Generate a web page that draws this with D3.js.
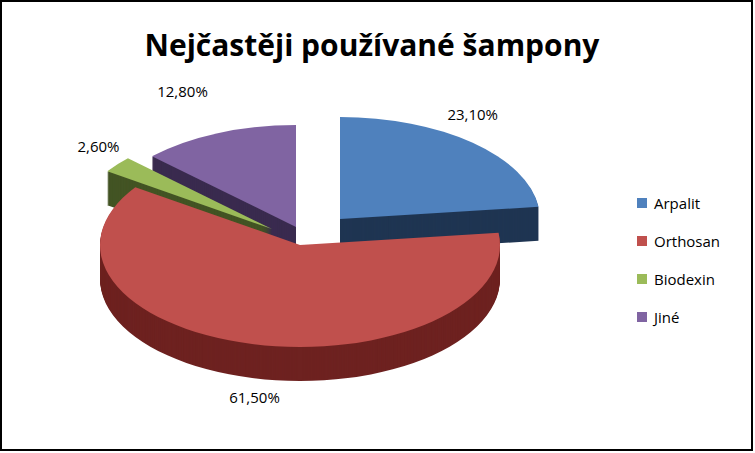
<!DOCTYPE html><html><head><meta charset="utf-8">
<script src="https://cdn.jsdelivr.net/npm/d3@7"></script>
<style>body{margin:0;background:#fff}</style></head><body><svg id="c" width="755" height="453"></svg>
<script>
const categories=["Arpalit","Orthosan","Biodexin","Jiné"];
const values=[23.1,61.5,2.6,12.8];
const labels=["23,10%","61,50%","2,60%","12,80%"];
const topColors=["#4F81BD","#C0504D","#9BBB59","#8064A2"];
const sideColors=["#1F3552","#6E2220","#435424","#3A2B4F"];
const offsets=[[40,-26],[0,0],[-28,-16],[-4,-18]];
const svg=d3.select("#c");
svg.append("rect").attr("x",1).attr("y",1).attr("width",751).attr("height",449).attr("fill","#fff").attr("stroke","#000").attr("stroke-width",2);
svg.append("text").attr("x",372).attr("y",56).attr("text-anchor","middle").attr("font-family","Open Sans, sans-serif").attr("font-weight","bold").attr("font-size",30).text("Nejčastěji používané šampony");
const cx=300,cy=245,rx=200,ry=102,depth=34;
const arcs=d3.pie().sort(null)(values);
const arc=d3.arc().innerRadius(0).outerRadius(rx);
const order=[3,2,0,1];
order.forEach(i=>{
  const a=arcs[i],[ox,oy]=offsets[i];
  const g=svg.append("g");
  for(let d=depth;d>0;d-=1){
    g.append("path").attr("d",arc(a)).attr("fill",sideColors[i])
     .attr("transform",`translate(${cx+ox},${cy+oy+d}) scale(1,${ry/rx})`);
  }
  g.append("path").attr("d",arc(a)).attr("fill",topColors[i])
   .attr("transform",`translate(${cx+ox},${cy+oy}) scale(1,${ry/rx})`);
});
const labelR=[[1.0,1.3],[0.95,1.6],[1.12,1.2],[1.45,1.38]];
arcs.forEach((a,i)=>{
  const m=(a.startAngle+a.endAngle)/2,[ox,oy]=offsets[i];
  const x=cx+ox+Math.sin(m)*rx*labelR[i][0], y=cy+oy-Math.cos(m)*ry*labelR[i][1];
  svg.append("text").attr("x",x).attr("y",y).attr("text-anchor","middle").attr("font-family","Open Sans, sans-serif").attr("font-size",15).text(labels[i]);
});
const lg=svg.append("g");
categories.forEach((c,i)=>{
  const y=203+i*38;
  lg.append("rect").attr("x",637).attr("y",y-5).attr("width",10).attr("height",10).attr("fill",topColors[i]);
  lg.append("text").attr("x",654).attr("y",y+6).attr("font-family","Open Sans, sans-serif").attr("font-size",15).text(c);
});
</script></body></html>
